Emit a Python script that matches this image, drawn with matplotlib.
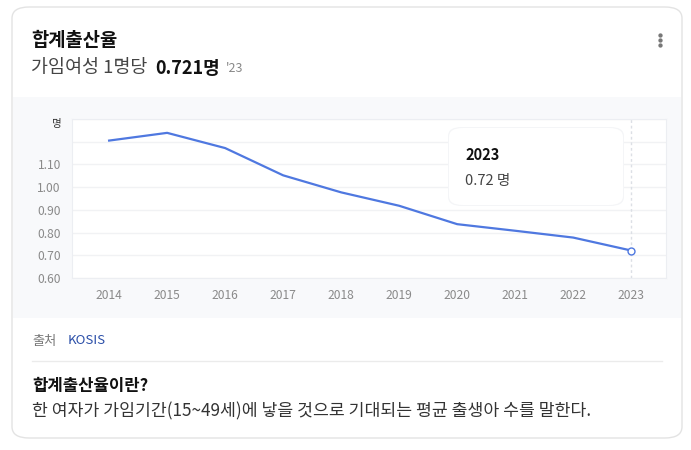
import matplotlib.pyplot as plt
from matplotlib.patches import FancyBboxPatch, Rectangle

plt.rcParams['font.family'] = ['Noto Sans CJK KR', 'DejaVu Sans']

years = [2014, 2015, 2016, 2017, 2018, 2019, 2020, 2021, 2022, 2023]
rates = [1.205, 1.239, 1.172, 1.052, 0.977, 0.918, 0.837, 0.808, 0.778, 0.721]
yticks = [0.6, 0.7, 0.8, 0.9, 1.0, 1.1, 1.2, 1.3]
ytick_labels = ['0.60', '0.70', '0.80', '0.90', '1.00', '1.10', '', '']

W, H = 691, 450
fig = plt.figure(figsize=(W / 100, H / 100), dpi=100)


def fx(x):
    return x / W


def fy(y):
    return 1 - y / H


# card
card = FancyBboxPatch((fx(12), fy(438)), fx(670), (438 - 7) / H,
                      boxstyle='round,pad=0,rounding_size=0.025',
                      transform=fig.transFigure, facecolor='white',
                      edgecolor='#e3e3e3', linewidth=1.0, zorder=0)
fig.patches.append(card)
panel = Rectangle((fx(13), fy(318)), fx(668), (318 - 97) / H,
                  transform=fig.transFigure, facecolor='#f8f9fb',
                  edgecolor='none', zorder=1)
fig.patches.append(panel)

# header
fig.text(fx(31), fy(40), '합계출산율', fontsize=13.5, fontweight='bold',
         color='#111111', va='center')
t = fig.text(fx(31), fy(68), '가임여성 1명당', fontsize=13.3, color='#444444', va='center')
r = fig.canvas.get_renderer()
x1 = t.get_window_extent(renderer=r).x1
t2 = fig.text((x1 + 8) / W, fy(68), '0.721명', fontsize=13, fontweight='bold',
              color='#111111', va='center')
x2 = t2.get_window_extent(renderer=r).x1
fig.text((x2 + 6) / W, fy(69), "'23", fontsize=9, color='#888888', va='center')
fig.add_artist(plt.Line2D([fx(660)] * 3, [fy(34.5), fy(39.5), fy(44.5)], linestyle='none',
                          marker='o', markersize=2.1, color='#777777',
                          transform=fig.transFigure))

# chart
ax = fig.add_axes([fx(72), fy(278), fx(666 - 72), (278 - 119) / H], zorder=2)
ax.set_facecolor('white')
ax.plot(years, rates, color='#4f78e0', linewidth=1.6, zorder=3)
ax.plot(years[-1], rates[-1], marker='o', markersize=5, markerfacecolor='white',
        markeredgecolor='#4f78e0', markeredgewidth=1.0, zorder=4)
ax.axvline(years[-1], color='#dcdfe5', linestyle=(0, (2, 2)), linewidth=1, zorder=2)
ax.set_xlim(2013.36, 2023.6)
ax.set_ylim(0.6, 1.3)
ax.set_xticks(years)
ax.set_yticks(yticks)
ax.set_yticklabels(ytick_labels)
ax.grid(axis='y', color='#f1f2f4', linewidth=1)
ax.set_axisbelow(True)
ax.tick_params(length=0, labelsize=8.7, colors='#8a8a8a')
ax.tick_params(axis='x', pad=8)
ax.tick_params(axis='y', pad=8)
for s in ax.spines.values():
    s.set_color('#eceef2')
    s.set_linewidth(0.8)

fig.text(fx(57), fy(124), '명', fontsize=7.5, color='#333333', ha='center', va='center', zorder=5)

# tooltip
shadow = FancyBboxPatch((fx(448), fy(206)), fx(176), 79 / H,
                        boxstyle='round,pad=0,rounding_size=0.02',
                        transform=fig.transFigure, facecolor='#f4f5f7',
                        edgecolor='none', zorder=5)
fig.patches.append(shadow)
tip = FancyBboxPatch((fx(449), fy(205)), fx(174), 77 / H,
                     boxstyle='round,pad=0,rounding_size=0.02',
                     transform=fig.transFigure, facecolor='white',
                     edgecolor='none', zorder=6)
fig.patches.append(tip)
fig.text(fx(465), fy(155), str(years[-1]), fontsize=10.5, fontweight='bold',
         color='#111111', va='center', zorder=7)
fig.text(fx(465), fy(181), f'{rates[-1]:.2f} 명', fontsize=10.5, color='#444444',
         va='center', zorder=7)

# footer
fig.text(fx(32), fy(341), '출처', fontsize=9.5, color='#777777', va='center')
fig.text(fx(68), fy(341), 'KOSIS', fontsize=9.5, color='#2a4ea8', va='center')
fig.add_artist(plt.Line2D([fx(32), fx(662)], [fy(361), fy(361)],
                          color='#ebebeb', linewidth=1, transform=fig.transFigure))
fig.text(fx(32), fy(386), '합계출산율이란?', fontsize=12, fontweight='bold',
         color='#111111', va='center')
fig.text(fx(32), fy(411), '한 여자가 가임기간(15~49세)에 낳을 것으로 기대되는 평균 출생아 수를 말한다.',
         fontsize=12.4, color='#333333', va='center')

fig.savefig('out.png', dpi=100)
